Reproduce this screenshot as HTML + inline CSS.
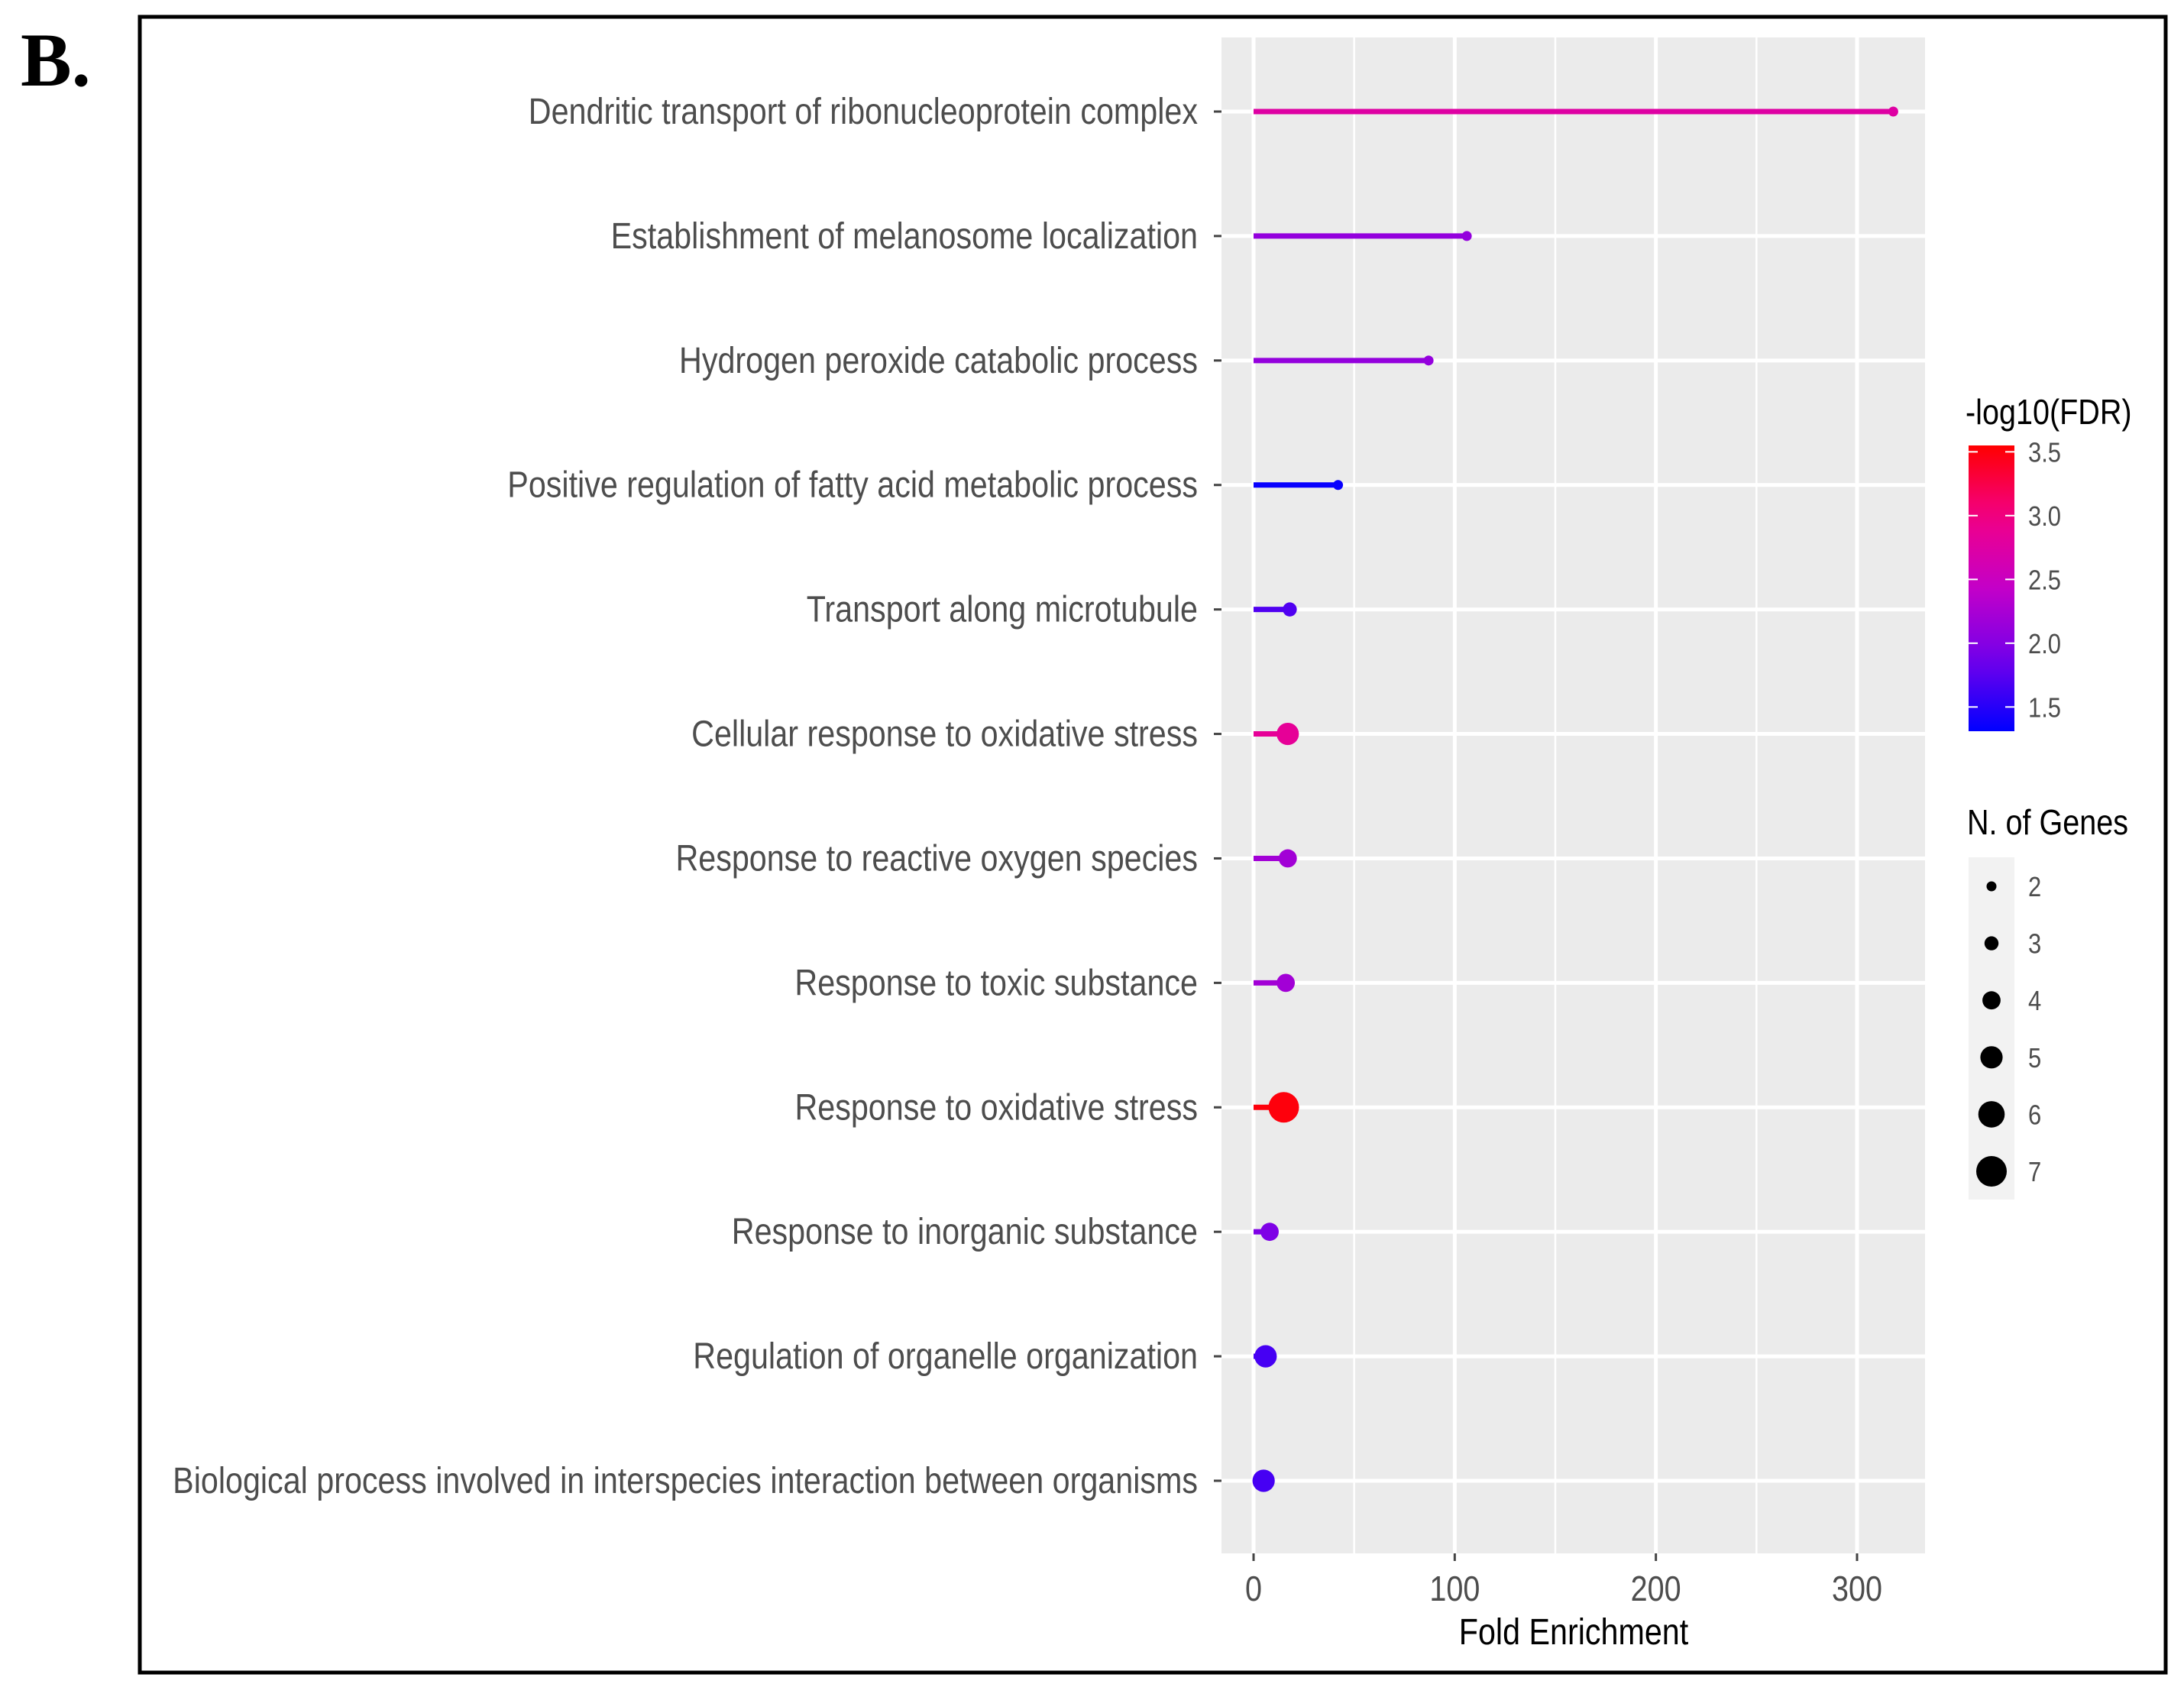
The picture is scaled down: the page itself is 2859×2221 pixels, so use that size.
<!DOCTYPE html>
<html><head><meta charset="utf-8"><style>
html,body{margin:0;padding:0;background:#fff;}
svg{display:block;}
text{font-family:"Liberation Sans",sans-serif;}
</style></head><body>
<svg id="chart" width="2859" height="2221" viewBox="0 0 2859 2221">
<rect x="0" y="0" width="2859" height="2221" fill="#fff"/>
<text x="27" y="112" font-weight="bold" font-size="100" fill="#000" style="font-family:'Liberation Serif',serif">B.</text>
<rect x="183" y="22" width="2652" height="2167" fill="none" stroke="#000" stroke-width="5"/>
<rect x="1599" y="49" width="921" height="1984" fill="#ebebeb"/>
<g id="grid"></g>
<g id="marks"></g>
<g id="ylabels"></g>
<g id="xaxis"></g>
<g id="legend"></g>
</svg>
<script>
const categories = ["Dendritic transport of ribonucleoprotein complex","Establishment of melanosome localization","Hydrogen peroxide catabolic process","Positive regulation of fatty acid metabolic process","Transport along microtubule","Cellular response to oxidative stress","Response to reactive oxygen species","Response to toxic substance","Response to oxidative stress","Response to inorganic substance","Regulation of organelle organization","Biological process involved in interspecies interaction between organisms"];
const foldEnrichment = [318,106,87,42,18,17,17,16,15,8,6,5];
const negLogFDR = [2.75,2.1,2.1,1.35,1.7,2.85,2.2,2.2,3.5,1.95,1.65,1.65];
const nGenes = [2,2,2,2,3,5,4,4,7,4,5,5];
const xTicks = [0,100,200,300];
const xMinor = [50,150,250];
const colorTicks = [1.5,2.0,2.5,3.0,3.5];
const sizeTicks = [2,3,4,5,6,7];

const NS="http://www.w3.org/2000/svg";
const SX=0.86;
const X0=1641, XS=(2431-1641)/300;
const xPos=v=>X0+v*XS;
const yPos=i=>146+i*((1938-146)/11);
const cMin=1.31,cMax=3.55;
const rOf=n=>6.5+(n-2)*2.7;
function col(v){
  let t=Math.max(0,Math.min(1,(v-cMin)/(cMax-cMin)));
  const st=[[0,[0,0,255]],[0.25,[115,0,235]],[0.5,[195,0,200]],[0.75,[242,0,135]],[1,[255,0,0]]];
  for(let k=0;k<st.length-1;k++){const [a,ca]=st[k],[b,cb]=st[k+1];
    if(t<=b){const u=(t-a)/(b-a);return `rgb(${ca.map((c,j)=>Math.round(c+(cb[j]-c)*u)).join(',')})`;}}
  return "rgb(255,0,0)";
}
function mk(tag,attrs,parent){const e=document.createElementNS(NS,tag);for(const k in attrs)e.setAttribute(k,attrs[k]);parent.appendChild(e);return e;}
function txt(x,y,s,anchor,size,fill,parent){const t=mk('text',{x:0,y:0,'text-anchor':anchor,'font-size':size,fill:fill,transform:`translate(${x},${y}) scale(${SX},1)`},parent);t.textContent=s;return t;}
const grid=document.getElementById('grid'),marks=document.getElementById('marks'),yl=document.getElementById('ylabels'),xa=document.getElementById('xaxis'),lg=document.getElementById('legend');
xMinor.forEach(v=>{const l=mk('line',{x1:xPos(v),x2:xPos(v),y1:49,y2:2033,stroke:'#fff','stroke-width':2.5},grid);

});
xTicks.forEach(v=>{const l=mk('line',{x1:xPos(v),x2:xPos(v),y1:49,y2:2033,stroke:'#fff','stroke-width':5},grid);


const tk=mk('line',{x1:xPos(v),x2:xPos(v),y1:2033,y2:2043,stroke:'#444','stroke-width':3},xa);


const t=txt(xPos(v),2095,String(v),'middle',46,'#4d4d4d',xa);

});
const xt=txt(2060,2152,'Fold Enrichment','middle',48,'#000',xa);


categories.forEach((c,i)=>{const y=yPos(i);
const g=mk('line',{x1:1599,x2:2520,y1:y,y2:y,stroke:'#fff','stroke-width':5},grid);


const tk=mk('line',{x1:1589,x2:1599,y1:y,y2:y,stroke:'#444','stroke-width':3},yl);


const t=txt(1568,y+16,c,'end',48,'#4d4d4d',yl);


const cc=col(negLogFDR[i]);
const s=mk('line',{x1:xPos(0),x2:xPos(foldEnrichment[i]),y1:y,y2:y,stroke:cc,'stroke-width':7},marks);


const d=mk('circle',{cx:xPos(foldEnrichment[i]),cy:y,r:rOf(nGenes[i]),fill:cc},marks);

});
// color legend
const lt=txt(2573,555,'-log10(FDR)','start',46,'#000',lg);


const defs=mk('defs',{},lg);const gr=mk('linearGradient',{id:'cg',x1:0,y1:1,x2:0,y2:0},defs);
for(let k=0;k<=10;k++){const v=cMin+(cMax-cMin)*k/10;mk('stop',{offset:k/10,'stop-color':col(v)},gr);}
const cb=mk('rect',{x:2577,y:583,width:60,height:374,fill:'url(#cg)'},lg);


const cy=v=>957-(v-cMin)/(cMax-cMin)*374;
colorTicks.forEach(v=>{const y=cy(v);
mk('line',{x1:2577,x2:2589,y1:y,y2:y,stroke:'#fff','stroke-width':2},lg);
mk('line',{x1:2625,x2:2637,y1:y,y2:y,stroke:'#fff','stroke-width':2},lg);
const t=txt(2655,y+13,v.toFixed(1),'start',36,'#4d4d4d',lg);

});
// size legend
const st=txt(2575,1092,'N. of Genes','start',46,'#000',lg);


const sb=mk('rect',{x:2577,y:1122,width:60,height:448,fill:'#f2f2f2'},lg);


sizeTicks.forEach((n,k)=>{const y=1160+k*74.6;
const c=mk('circle',{cx:2607,cy:y,r:rOf(n),fill:'#000'},lg);


const t=txt(2655,y+13,String(n),'start',36,'#4d4d4d',lg);

});
</script>
</body></html>
